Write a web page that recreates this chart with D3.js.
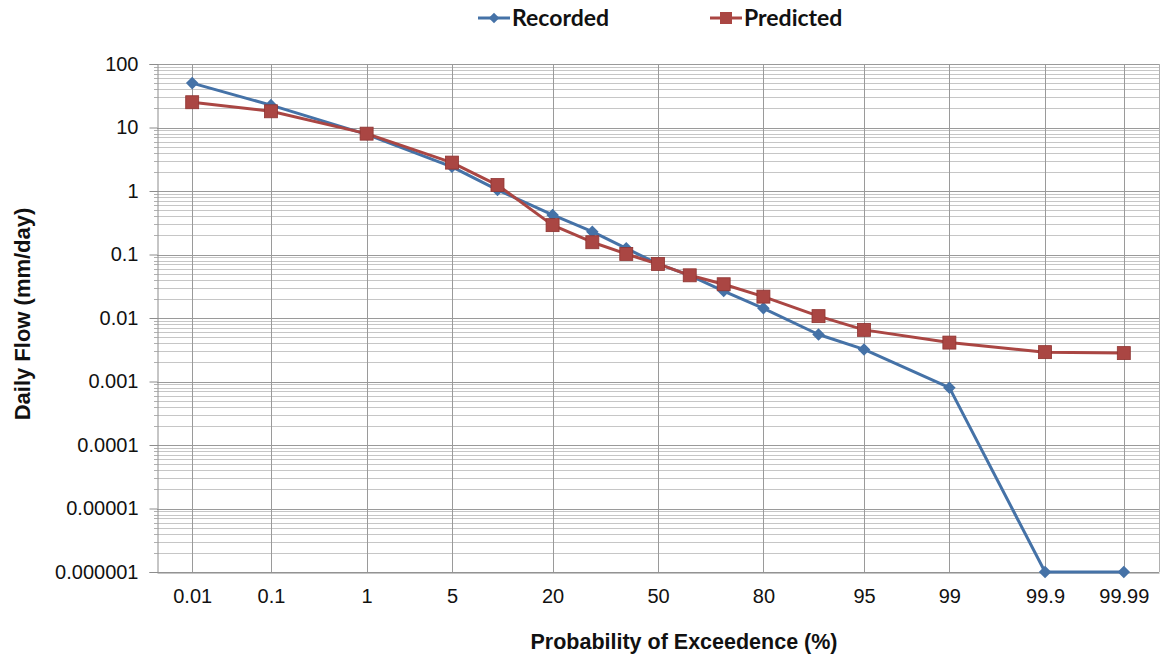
<!DOCTYPE html>
<html>
<head>
<meta charset="utf-8">
<script src="https://cdnjs.cloudflare.com/ajax/libs/d3/7.8.5/d3.min.js"></script>
<style>
  body { margin: 0; background: #fff; }
  svg { display: block; }
  .tick-label { font-family: 'Liberation Sans', Arial, sans-serif; font-size: 20px; fill: #111; }
  .axis-title { font-family: 'Liberation Sans', Arial, sans-serif; font-size: 21.5px; font-weight: bold; fill: #111; }
  .legend-label { font-family: Lato, 'Liberation Sans', sans-serif; font-size: 23px; font-weight: bold; fill: #111; }
</style>
</head>
<body>
<div id="chart"></div>
<script>
// probability of exceedence (%) for each point
const probs = [0.01, 0.1, 1, 5, 10, 20, 30, 40, 50, 60, 70, 80, 90, 95, 99, 99.9, 99.99];
const recorded = [50, 22.5, 7.8, 2.4, 1.04, 0.42, 0.229, 0.125, 0.071, 0.047, 0.0266, 0.0142, 0.0055, 0.0032, 0.0008, 0.000001, 0.000001];
const predicted = [25, 18, 8, 2.8, 1.24, 0.29, 0.156, 0.102, 0.071, 0.047, 0.034, 0.0217, 0.0107, 0.0065, 0.0041, 0.0029, 0.0028];

const xTickProbs = [0.01, 0.1, 1, 5, 20, 50, 80, 95, 99, 99.9, 99.99];
const xTickLabels = ['0.01', '0.1', '1', '5', '20', '50', '80', '95', '99', '99.9', '99.99'];
const yTickValues = [1e-6, 1e-5, 1e-4, 1e-3, 1e-2, 1e-1, 1, 10, 100];
const yTickLabels = ['0.000001', '0.00001', '0.0001', '0.001', '0.01', '0.1', '1', '10', '100'];

const seriesNames = ['Recorded', 'Predicted'];
const seriesColors = ['#4572A7', '#AA4643'];

// inverse normal CDF (Acklam) -> normal probability paper
function probit(p) {
  const a = [-3.969683028665376e+01, 2.209460984245205e+02, -2.759285104469687e+02, 1.383577518672690e+02, -3.066479806614716e+01, 2.506628277386814e+00];
  const b = [-5.447609879822406e+01, 1.615858368580409e+02, -1.556989798598866e+02, 6.680131188771972e+01, -1.328068155288572e+01];
  const c = [-7.784894002430293e-03, -3.223964580411365e-01, -2.400758277161838e+00, -2.549732539343734e+00, 4.374664141464968e+00, 2.938163982698783e+00];
  const d = [7.784695709041462e-03, 3.224671290700398e-01, 2.445134137142996e+00, 3.754408661907416e+00];
  const plow = 0.02425, phigh = 1 - plow;
  let q, r;
  if (p < plow) {
    q = Math.sqrt(-2 * Math.log(p));
    return (((((c[0]*q+c[1])*q+c[2])*q+c[3])*q+c[4])*q+c[5]) / ((((d[0]*q+d[1])*q+d[2])*q+d[3])*q+1);
  } else if (p <= phigh) {
    q = p - 0.5; r = q * q;
    return (((((a[0]*r+a[1])*r+a[2])*r+a[3])*r+a[4])*r+a[5])*q / (((((b[0]*r+b[1])*r+b[2])*r+b[3])*r+b[4])*r+1);
  }
  q = Math.sqrt(-2 * Math.log(1 - p));
  return -(((((c[0]*q+c[1])*q+c[2])*q+c[3])*q+c[4])*q+c[5]) / ((((d[0]*q+d[1])*q+d[2])*q+d[3])*q+1);
}

const width = 1162;
const height = 658;
const plot = { left: 157, right: 1159, top: 64, bottom: 572 };

const svg = d3.select('#chart').append('svg')
  .attr('width', width)
  .attr('height', height);

const zScale = d3.scaleLinear().domain([-4, 4]).range([plot.left, plot.right]);
const x = p => zScale(probit(p / 100));
const y = d3.scaleLog().domain([1e-6, 100]).range([plot.bottom, plot.top]);

// minor horizontal grid
const minorVals = [];
yTickValues.slice(0, -1).forEach(v => {
  for (let k = 2; k <= 9; k++) minorVals.push(v * k);
});

const grid = svg.append('g').attr('class', 'grid');
grid.append('g').selectAll('line')
  .data(minorVals)
  .join('line')
  .attr('x1', plot.left).attr('x2', plot.right)
  .attr('y1', d => Math.round(y(d)) + 0.5).attr('y2', d => Math.round(y(d)) + 0.5)
  .attr('stroke', '#c6c6c6')
  .attr('stroke-width', 1);

grid.append('g').selectAll('line')
  .data(yTickValues)
  .join('line')
  .attr('x1', plot.left).attr('x2', plot.right)
  .attr('y1', d => Math.round(y(d)) + 0.5).attr('y2', d => Math.round(y(d)) + 0.5)
  .attr('stroke', '#9a9a9a')
  .attr('stroke-width', 1);

grid.append('g').selectAll('line')
  .data(xTickProbs)
  .join('line')
  .attr('x1', d => Math.round(x(d)) + 0.5).attr('x2', d => Math.round(x(d)) + 0.5)
  .attr('y1', plot.top).attr('y2', plot.bottom)
  .attr('stroke', '#9a9a9a')
  .attr('stroke-width', 1);

// right border
grid.append('line')
  .attr('x1', plot.right + 0.5).attr('x2', plot.right + 0.5)
  .attr('y1', plot.top).attr('y2', plot.bottom)
  .attr('stroke', '#b0b0b0');

// y axis
const yAxis = svg.append('g')
  .attr('transform', `translate(${plot.left + 0.5},0)`)
  .call(d3.axisLeft(y).tickValues(yTickValues).tickSize(8).tickFormat((d, i) => yTickLabels[i]).tickPadding(11));
yAxis.select('.domain').attr('stroke', '#8c8c8c');
yAxis.selectAll('.tick line').attr('stroke', '#8c8c8c');
yAxis.selectAll('.tick text').attr('class', 'tick-label');

svg.append('g')
  .selectAll('line')
  .data(minorVals)
  .join('line')
  .attr('x1', plot.left - 3).attr('x2', plot.left)
  .attr('y1', d => Math.round(y(d)) + 0.5).attr('y2', d => Math.round(y(d)) + 0.5)
  .attr('stroke', '#b0b0b0');

// x axis
const xAxis = svg.append('g')
  .attr('transform', `translate(0,${plot.bottom + 0.5})`)
  .call(d3.axisBottom(zScale)
    .tickValues(xTickProbs.map(p => probit(p / 100)))
    .tickSize(0)
    .tickPadding(16)
    .tickFormat((d, i) => xTickLabels[i]));
xAxis.select('.domain').attr('stroke', '#8c8c8c');
xAxis.selectAll('.tick text').attr('class', 'tick-label');

// series
const series = [recorded, predicted];
const line = d3.line()
  .x((d, i) => x(probs[i]))
  .y(d => y(d));

series.forEach((vals, s) => {
  svg.append('path')
    .datum(vals)
    .attr('fill', 'none')
    .attr('stroke', seriesColors[s])
    .attr('stroke-width', 3)
    .attr('stroke-linejoin', 'round')
    .attr('d', line);
});

// markers
svg.append('g')
  .selectAll('path')
  .data(recorded)
  .join('path')
  .attr('d', d3.symbol(d3.symbolDiamond2, 100))
  .attr('transform', (d, i) => `translate(${x(probs[i])},${y(d)})`)
  .attr('fill', seriesColors[0]);

svg.append('g')
  .selectAll('rect')
  .data(predicted)
  .join('rect')
  .attr('x', (d, i) => x(probs[i]) - 6.5)
  .attr('y', d => y(d) - 6.5)
  .attr('width', 13)
  .attr('height', 13)
  .attr('fill', seriesColors[1])
  .attr('stroke', '#8f3431')
  .attr('stroke-width', 0.8);

// axis titles
svg.append('text')
  .attr('class', 'axis-title')
  .style('font-size', '22px')
  .attr('transform', `translate(30,314) rotate(-90)`)
  .attr('text-anchor', 'middle')
  .text('Daily Flow (mm/day)');

svg.append('text')
  .attr('class', 'axis-title')
  .attr('x', 684)
  .attr('y', 649)
  .attr('text-anchor', 'middle')
  .text('Probability of Exceedence (%)');

// legend
const legendX = [478, 710];
const legend = svg.append('g');
seriesNames.forEach((name, s) => {
  const g = legend.append('g').attr('transform', `translate(${legendX[s]},18)`);
  g.append('line')
    .attr('x1', 0).attr('x2', 32)
    .attr('stroke', seriesColors[s])
    .attr('stroke-width', 3);
  if (s === 0) {
    g.append('path')
      .attr('d', d3.symbol(d3.symbolDiamond2, 70))
      .attr('transform', 'translate(16,0)')
      .attr('fill', seriesColors[s]);
  } else {
    g.append('rect')
      .attr('x', 10).attr('y', -6).attr('width', 12).attr('height', 12)
      .attr('fill', seriesColors[s]);
  }
  g.append('text')
    .attr('class', 'legend-label')
    .attr('x', 34)
    .attr('dy', '0.35em')
    .text(name);
});
</script>
</body>
</html>
